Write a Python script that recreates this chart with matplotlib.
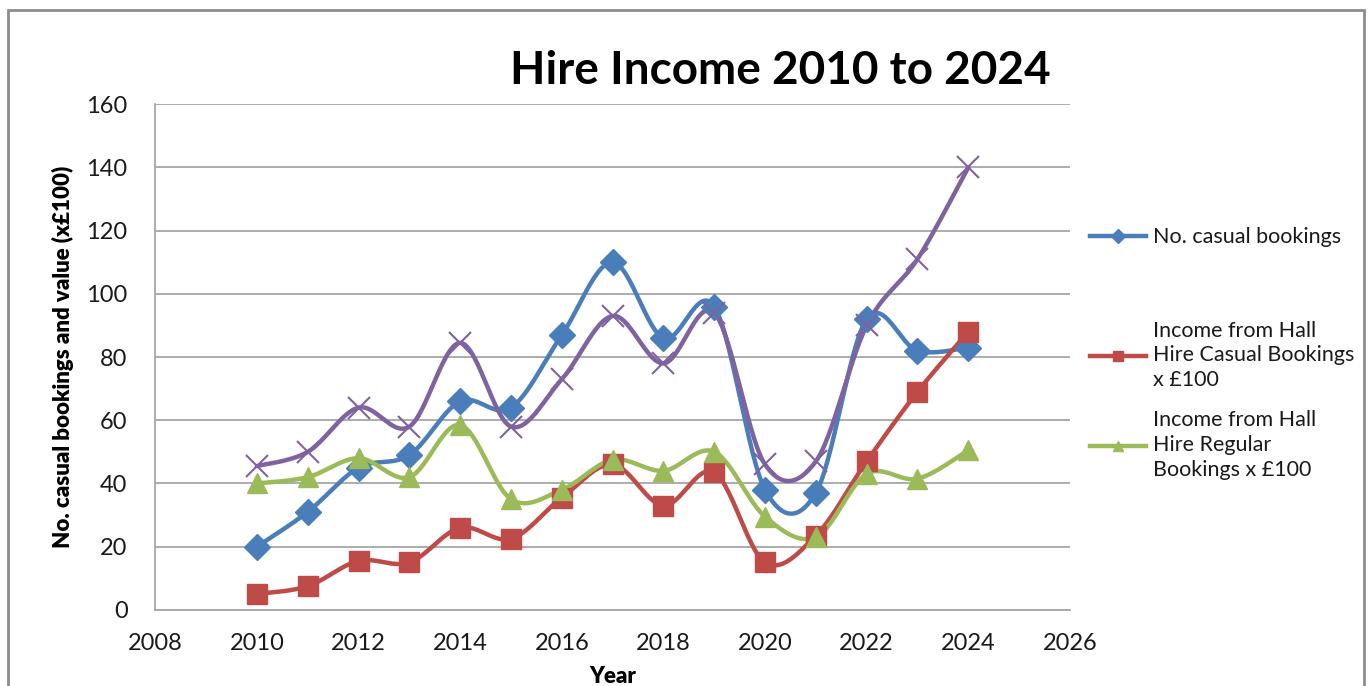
import matplotlib
matplotlib.use('Agg')
import matplotlib.pyplot as plt
from matplotlib.lines import Line2D
from matplotlib.patches import Rectangle
import numpy as np

plt.rcParams['font.family'] = ['Lato', 'DejaVu Sans']

years = [2010, 2011, 2012, 2013, 2014, 2015, 2016, 2017, 2018, 2019, 2020, 2021, 2022, 2023, 2024]
casual_bookings = [20, 31, 45, 49, 66, 64, 87, 110, 86, 96, 38, 37, 92, 82, 83]
income_casual = [5, 7.5, 15.5, 15, 26, 22.5, 35.5, 46, 33, 43.5, 15, 23.5, 47, 69, 88]
income_regular = [40, 42, 48, 42, 58.5, 35, 38, 47.5, 44, 50, 29.5, 23, 43, 41.5, 50.5]
total_series = [45.5, 50, 64, 58, 84.5, 58, 73, 93, 78, 94, 46, 47, 90, 111, 140]

labels = ['No. casual bookings',
          'Income from Hall\nHire Casual Bookings\nx £100',
          'Income from Hall\nHire Regular\nBookings x £100']

BLUE = '#4a7ebb'
RED = '#be4b48'
GREEN = '#9bbb59'
PURPLE = '#7f63a1'
GRID = '#a6a6a6'


def smooth(x, y, n=30):
    # bezier smoothing like Excel "smoothed line"
    x = np.asarray(x, dtype=float)
    y = np.asarray(y, dtype=float)
    px, py = [], []
    for i in range(len(x) - 1):
        i0 = max(i - 1, 0)
        i3 = min(i + 2, len(x) - 1)
        c1x = x[i] + (x[i + 1] - x[i0]) / 6
        c1y = y[i] + (y[i + 1] - y[i0]) / 6
        c2x = x[i + 1] - (x[i3] - x[i]) / 6
        c2y = y[i + 1] - (y[i3] - y[i]) / 6
        t = np.linspace(0, 1, n)
        b0 = (1 - t) ** 3
        b1 = 3 * (1 - t) ** 2 * t
        b2 = 3 * (1 - t) * t ** 2
        b3 = t ** 3
        px.extend(b0 * x[i] + b1 * c1x + b2 * c2x + b3 * x[i + 1])
        py.extend(b0 * y[i] + b1 * c1y + b2 * c2y + b3 * y[i + 1])
    return px, py


fig = plt.figure(figsize=(13.69, 6.86), dpi=100)
ax = fig.add_axes([0.1135, 0.111, 0.668, 0.737])

series = [
    (casual_bookings, BLUE, 'D', 13, 1),
    (income_casual, RED, 's', 15, 1),
    (income_regular, GREEN, '^', 15, 1),
    (total_series, PURPLE, 'x', 16, 1.5),
]
for vals, col, mk, ms, mew in series:
    sx, sy = smooth(years, vals)
    ax.plot(sx, sy, color=col, lw=3.2, solid_capstyle='round', zorder=3)
    ax.plot(years, vals, ls='none', marker=mk, ms=ms, color=col, mec=col, mew=mew, zorder=4)

ax.set_xlim(2008, 2026)
ax.set_ylim(0, 160)
ax.set_xticks(range(2008, 2027, 2))
ax.set_yticks(range(0, 161, 20))
ax.yaxis.grid(True, color=GRID, lw=1.3)
ax.set_axisbelow(True)
for s in ['top', 'right']:
    ax.spines[s].set_visible(False)
for s in ['left', 'bottom']:
    ax.spines[s].set_color(GRID)
    ax.spines[s].set_linewidth(1.3)
ax.tick_params(axis='both', length=0, labelsize=17, colors='#1a1a1a')
ax.tick_params(axis='y', pad=20)
ax.tick_params(axis='x', pad=17)

ax.set_xlabel('Year', fontsize=16, fontweight='heavy', labelpad=8)
ax.set_ylabel('No. casual bookings and value (x£100)', fontsize=16, fontweight='heavy', labelpad=9)

fig.text(0.57, 0.897, 'Hire Income 2010 to 2024', fontsize=33, fontweight='bold',
         ha='center', va='center')

# legend entries, placed separately like Excel spreads them
leg_y = [0.654, 0.482, 0.351]
for (vals, col, mk, ms, mew), lab, yy in zip(series[:3], labels, leg_y):
    h = Line2D([0], [0], color=col, lw=3.2, marker=mk, ms=7)
    lg = fig.legend([h], [lab], loc='center left', bbox_to_anchor=(0.79, yy),
                    frameon=False, fontsize=15.5, handlelength=2.6, handletextpad=0.3,
                    borderaxespad=0)
    txt = lg.get_texts()[0]
    txt.set_color('#1a1a1a')
    txt.set_linespacing(1.3)

fig.patches.append(Rectangle((0.006, -0.1), 0.99, 1.085, transform=fig.transFigure,
                             fill=False, edgecolor='#8c8c8c', lw=2))

fig.savefig('out.png', dpi=100)
